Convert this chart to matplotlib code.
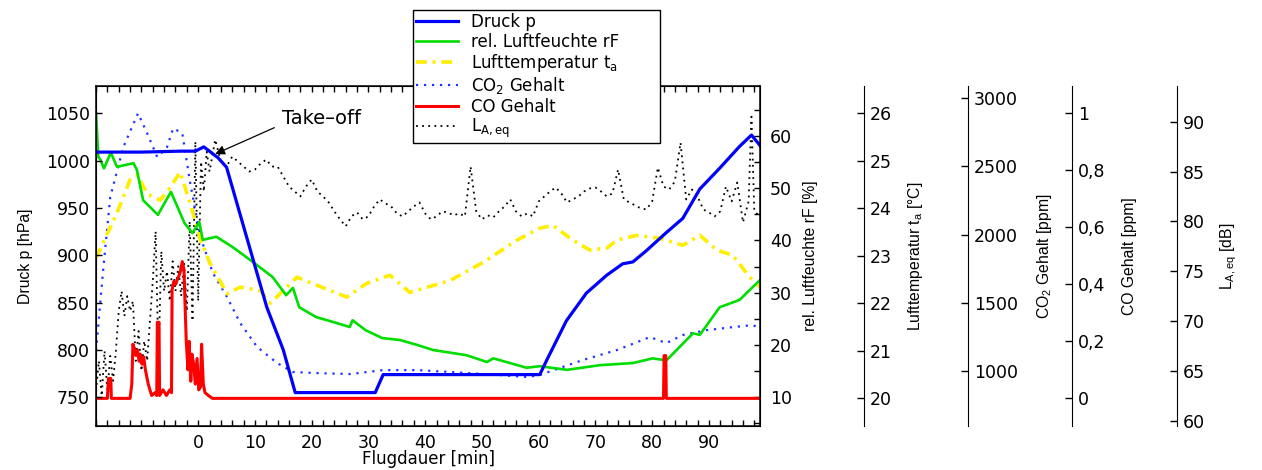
import matplotlib
matplotlib.use('Agg')
import matplotlib.pyplot as plt
from matplotlib.ticker import MultipleLocator, FixedLocator, FuncFormatter

plt.rcParams['font.family'] = 'DejaVu Sans'
plt.rcParams['mathtext.fontset'] = 'dejavusans'

# Druck p [hPa]
t_druck = [-18, -10, -3, -0.5, 1, 3.5, 5, 9.7, 12.1, 15, 17.1, 31.2, 32.6, 60.2, 61.4,
           64.9, 68.4, 72, 74.8, 76.6, 79, 82.5, 85.4, 88.4, 91.9, 95.4, 97.5, 99]
druck = [1009, 1009, 1010, 1010, 1014.5, 1003, 993, 895, 845, 800, 755, 755, 774, 774, 789,
         831, 860, 879, 891, 893, 905, 924, 939, 970, 992, 1015, 1027, 1016]

# rel. Luftfeuchte rF [%]
t_rf = [-18, -17.6, -17.2, -16.6, -15.4, -14.3, -11.4, -10.8, -9.7, -7.1, -4.8, -2.4, -1.0,
        0.2, 0.8, 3.2, 6.1, 9.6, 13.1, 15.5, 16.7, 17.8, 20.8, 23.7, 26.7, 27.2, 29.5, 32.4,
        35.6, 38.5, 41.4, 47.3, 50.9, 52, 57.9, 60.2, 65, 70.8, 76.6, 80.1, 82.5, 87.2, 88.4,
        91.9, 95.4, 99]
rf = [64.4, 56, 55.4, 53.8, 56.8, 54.1, 54.8, 53.5, 47.7, 44.9, 49.3, 43.3, 41.4,
      43.5, 40.1, 40.7, 38.7, 35.9, 33, 29.5, 30.9, 27.2, 25.3, 24.4, 23.4, 24.7, 22.8, 21.3,
      20.9, 20.0, 19, 18, 16.7, 17.4, 15.6, 15.9, 15.2, 16.1, 16.5, 17.4, 17, 22.2, 21.9,
      27.2, 28.6, 32.4]

# Lufttemperatur t_a [°C]
t_temp = [-18, -16, -14.3, -12, -10.7, -9, -6.7, -4.9, -3.2, -1.4, 0.4, 2.1, 5.1, 7.4, 10.9,
          12.7, 15, 17.4, 20.9, 26.2, 29.7, 33.8, 37.3, 44.4, 50.2, 56.2, 60.2, 62.5, 66, 69,
          72, 73.8, 77.3, 81.3, 85.4, 88.4, 91.4, 94.2, 97.2, 99]
temp = [22.95, 23.47, 23.9, 24.6, 24.7, 24.3, 24.17, 24.44, 24.76, 24.1, 23.33, 22.84, 22.2,
        22.34, 22.27, 22.0, 22.27, 22.55, 22.38, 22.13, 22.42, 22.59, 22.23, 22.48, 22.86,
        23.33, 23.58, 23.64, 23.33, 23.12, 23.16, 23.33, 23.43, 23.37, 23.22, 23.43, 23.12,
        23.01, 22.55, 22.34]

# CO2 Gehalt [ppm]
t_co2 = [-18, -16.7, -15.5, -13.2, -10.6, -9, -7.2, -5.5, -4.4, -2.8, -1.4, 0.4, 2.6, 5.1,
         7.4, 10.4, 13.9, 16.7, 20.9, 26.8, 32.6, 38.6, 44.4, 53.2, 57.9, 60.2, 63.7, 67.8,
         73.8, 79.6, 82.5, 85.4, 89.6, 94.2, 97.7, 99]
co2 = [1150, 1762, 2275, 2641, 2890, 2744, 2568, 2641, 2780, 2744, 2377, 1982, 1718, 1542,
       1352, 1176, 1059, 993, 985, 978, 1007, 1007, 993, 971, 956, 971, 1022, 1081,
       1154, 1249, 1205, 1264, 1300, 1322, 1337, 1315]

# CO Gehalt [ppm]
t_co = [-18, -16, -15.8, -15.4, -15.3, -12, -11.7, -11.5, -11.2, -11, -10.7, -10.4, -10.2,
        -9.9, -9.6, -9.3, -9.1, -8.8, -8.5, -8.2, -7.6, -7.3, -7.2, -6.9, -6.8, -6.2, -5.6,
        -5.0, -4.7, -4.6, -4.3, -4.0, -3.6, -3.2, -2.8, -2.5, -2.3, -2.1, -1.8, -1.6, -1.3,
        -1.1, -0.8, -0.5, -0.2, 0.1, 0.4, 0.6, 0.9, 1.2, 1.8, 2.5, 82.0, 82.1, 82.4, 82.5, 99]
co = [0, 0, 0.07, 0.07, 0, 0, 0.05, 0.19, 0.17, 0.15, 0.17, 0.13, 0.155,
      0.12, 0.145, 0.10, 0.08, 0.05, 0.03, 0.01, 0.02, 0.01, 0.267, 0.267, 0.01, 0.03, 0.01,
      0.03, 0.02, 0.38, 0.41, 0.40, 0.42, 0.44, 0.48, 0.45, 0.32, 0.20, 0.10, 0.20, 0.06,
      0.155, 0.12, 0.05, 0.14, 0.03, 0.04, 0.19, 0.05, 0.02, 0.01, 0, 0, 0.15, 0.15, 0, 0]

# L_A,eq [dB]
t_laeq = [-18, -17.5, -17, -16.5, -16, -15.5, -15, -14.5, -14, -13.5, -13, -12.5, -12, -11.5,
          -11, -10.5, -10, -9.5, -9, -8.5, -8, -7.5, -7, -6.5, -6, -5.5, -5, -4.5, -4, -3.5,
          -3, -2.5, -2, -1.5, -1, -0.5, 0, 0.5, 1, 1.5, 2,
          3, 4, 5, 6, 7, 8, 9, 10, 11, 12, 13, 14, 15, 16, 17, 18, 19, 20, 21, 22, 23, 24,
          25, 26, 27, 28, 29, 30, 31, 32, 33, 34, 35, 36, 37, 38, 39, 40, 41, 42, 43, 44, 45,
          46, 47, 48, 49, 50, 51, 52, 53, 54, 55, 56, 57, 58, 59, 60, 61, 62, 63, 64, 65, 66,
          67, 68, 69, 70, 71, 72, 73, 74, 75, 76, 77, 78, 79, 80, 81, 82, 83, 84, 85, 86, 87,
          88, 89, 90, 91, 92, 93, 94, 95, 96, 97, 97.5, 98, 99]
laeq = [63, 66, 62.5, 67, 63, 66.5, 64, 67, 71, 73, 70.5, 72.5, 71, 72,
        66, 69, 65, 68, 66, 70, 74, 79, 66, 77, 73, 75, 72, 76, 73, 75.5,
        72.5, 76, 71, 80, 70, 88, 72, 86, 83, 87, 85,
        88.2, 86, 85.5, 86.5, 86, 85.5, 85, 85.2, 85.8, 86.2, 85.5, 85.5, 84.5, 83.5, 83, 82.5,
        83.5, 84.2, 83, 82.5, 81.9, 81, 80.2, 79.5, 80.5, 80.9, 80.2, 80.5, 81.5, 82.2, 81.8,
        81.5, 80.8, 80.5, 81, 81.5, 81.9, 80.8, 80.2, 80.5, 81, 80.9, 80.6, 80.8, 80.5, 85.5,
        81, 80.2, 80.6, 80.4, 81, 81.5, 82.2, 81, 80.5, 80.8, 80.5, 82, 82.5, 83, 83.4, 82.8,
        81.9, 82.2, 82.5, 83, 83.3, 83.4, 83, 82.5, 82.8, 85.2, 82.2, 81.9, 81.6, 81.3, 81.2,
        82, 85.4, 83.5, 83.2, 84, 87.9, 82.2, 83.2, 82.5, 81.2, 80.9, 80.5, 81, 83.5, 82, 83.9,
        79.9, 82, 90.5, 81, 80.5]

TICK_FS = 12.5
VLABEL = dict(family='Liberation Sans', fontsize=11.3)

fig = plt.figure(figsize=(12.62, 4.70), dpi=100)
fig.patch.set_facecolor('white')
ax = fig.add_axes([0.0761, 0.0936, 0.5261, 0.7234])
ax.patch.set_visible(False)


def outer_axis(pos):
    a = ax.twinx()
    for side in ['top', 'bottom', 'left']:
        a.spines[side].set_visible(False)
    a.spines['right'].set_position(('axes', pos))
    a.tick_params(axis='y', direction='in', length=5, width=1, pad=4.3, labelsize=TICK_FS)
    return a


ax_rf = ax.twinx()
ax_t = outer_axis(1.1566)
ax_co2 = outer_axis(1.3133)
ax_co = outer_axis(1.4699)
ax_l = outer_axis(1.628)

# Zeichenreihenfolge der Achsen
ax_l.set_zorder(1)
ax_co2.set_zorder(2)
ax_t.set_zorder(3)
ax_rf.set_zorder(4)
ax_co.set_zorder(5)
ax.set_zorder(6)

l_laeq, = ax_l.plot(t_laeq, laeq, color='black', lw=1.3, linestyle=(0, (1, 2.4)))
l_co2, = ax_co2.plot(t_co2, co2, color='#2233ff', lw=1.6, linestyle=(0, (1, 2.6)))
l_temp, = ax_t.plot(t_temp, temp, color='#ffee00', lw=2.6, linestyle=(0, (3, 1.6, 0.8, 1.6)))
l_rf, = ax_rf.plot(t_rf, rf, color='#00dd00', lw=1.9)
l_co, = ax_co.plot(t_co, co, color='#ff0000', lw=2.2)
l_druck, = ax.plot(t_druck, druck, color='#0000ff', lw=2.3)

# Hauptachse
ax.set_xlim(-18, 99)
ax.set_ylim(719.7, 1078.8)
ax.xaxis.set_major_locator(FixedLocator(range(0, 100, 10)))
ax.xaxis.set_minor_locator(MultipleLocator(2))
ax.yaxis.set_major_locator(MultipleLocator(50))
ax.tick_params(axis='x', which='both', direction='in', top=True, length=4, width=1,
               pad=6, labelsize=TICK_FS)
ax.tick_params(axis='y', direction='in', length=4, width=1, pad=4.3, labelsize=TICK_FS)
for sp in ax.spines.values():
    sp.set_linewidth(1.1)
ax.set_xlabel('Flugdauer [min]', fontsize=12)
ax.xaxis.set_label_coords(0.5, -0.072)
ax.set_ylabel('Druck p [hPa]', **VLABEL)
ax.yaxis.set_label_coords(-0.0949, 0.5)

ax_rf.set_ylim(4.44, 69.58)
ax_rf.yaxis.set_major_locator(MultipleLocator(10))
ax_rf.yaxis.set_minor_locator(MultipleLocator(5))
ax_rf.tick_params(axis='y', which='both', direction='in', length=4, width=1, pad=7,
                  labelsize=TICK_FS)
ax_rf.set_ylabel('rel. Luftfeuchte rF [%]', **VLABEL)
ax_rf.yaxis.set_label_coords(1.0648, 0.5)

ax_t.set_ylim(19.42, 26.57)
ax_t.yaxis.set_major_locator(MultipleLocator(1))
ax_t.set_ylabel(r'Lufttemperatur t$_\mathregular{a}$ [°C]', **VLABEL)
ax_t.yaxis.set_label_coords(1.2199, 0.5)

ax_co2.set_ylim(597, 3090)
ax_co2.yaxis.set_major_locator(MultipleLocator(500))
ax_co2.set_ylabel(r'CO$_\mathregular{2}$ Gehalt [ppm]', **VLABEL)
ax_co2.yaxis.set_label_coords(1.4142, 0.5)

ax_co.set_ylim(-0.097, 1.096)
ax_co.yaxis.set_major_locator(MultipleLocator(0.2))
ax_co.yaxis.set_major_formatter(FuncFormatter(lambda v, p: ('%g' % round(v, 2)).replace('.', ',')))
ax_co.set_ylabel('CO Gehalt [ppm]', **VLABEL)
ax_co.yaxis.set_label_coords(1.5452, 0.5)

ax_l.set_ylim(59.47, 93.58)
ax_l.yaxis.set_major_locator(MultipleLocator(5))
ax_l.set_ylabel(r'L$_\mathregular{A,eq}$ [dB]', **VLABEL)
ax_l.yaxis.set_label_coords(1.6898, 0.5)

# Take-off Markierung
ax.annotate('Take\u2013off', xy=(3.0, 1007), xytext=(14.8, 1044.5), textcoords='data',
            ha='left', va='center', fontsize=14,
            arrowprops=dict(arrowstyle='-|>', color='black', lw=0.9, mutation_scale=14,
                            relpos=(0, 0.2), shrinkA=4, shrinkB=0))

leg = fig.legend([l_druck, l_rf, l_temp, l_co2, l_co, l_laeq],
                 ['Druck p', 'rel. Luftfeuchte rF', r'Lufttemperatur t$_\mathregular{a}$',
                  r'CO$_\mathregular{2}$ Gehalt', 'CO Gehalt', r'L$_\mathregular{A,eq}$'],
                 loc='upper left', bbox_to_anchor=(0.327, 0.0, 0.196, 0.979),
                 bbox_transform=fig.transFigure, mode='expand',
                 fontsize=12, frameon=True, fancybox=False, framealpha=1, edgecolor='black',
                 labelspacing=0.08, handlelength=2.5, handletextpad=0.8, borderpad=0.2,
                 borderaxespad=0)
leg.get_frame().set_linewidth(1.0)
leg.set_zorder(20)

fig.savefig('out.png', dpi=100)
